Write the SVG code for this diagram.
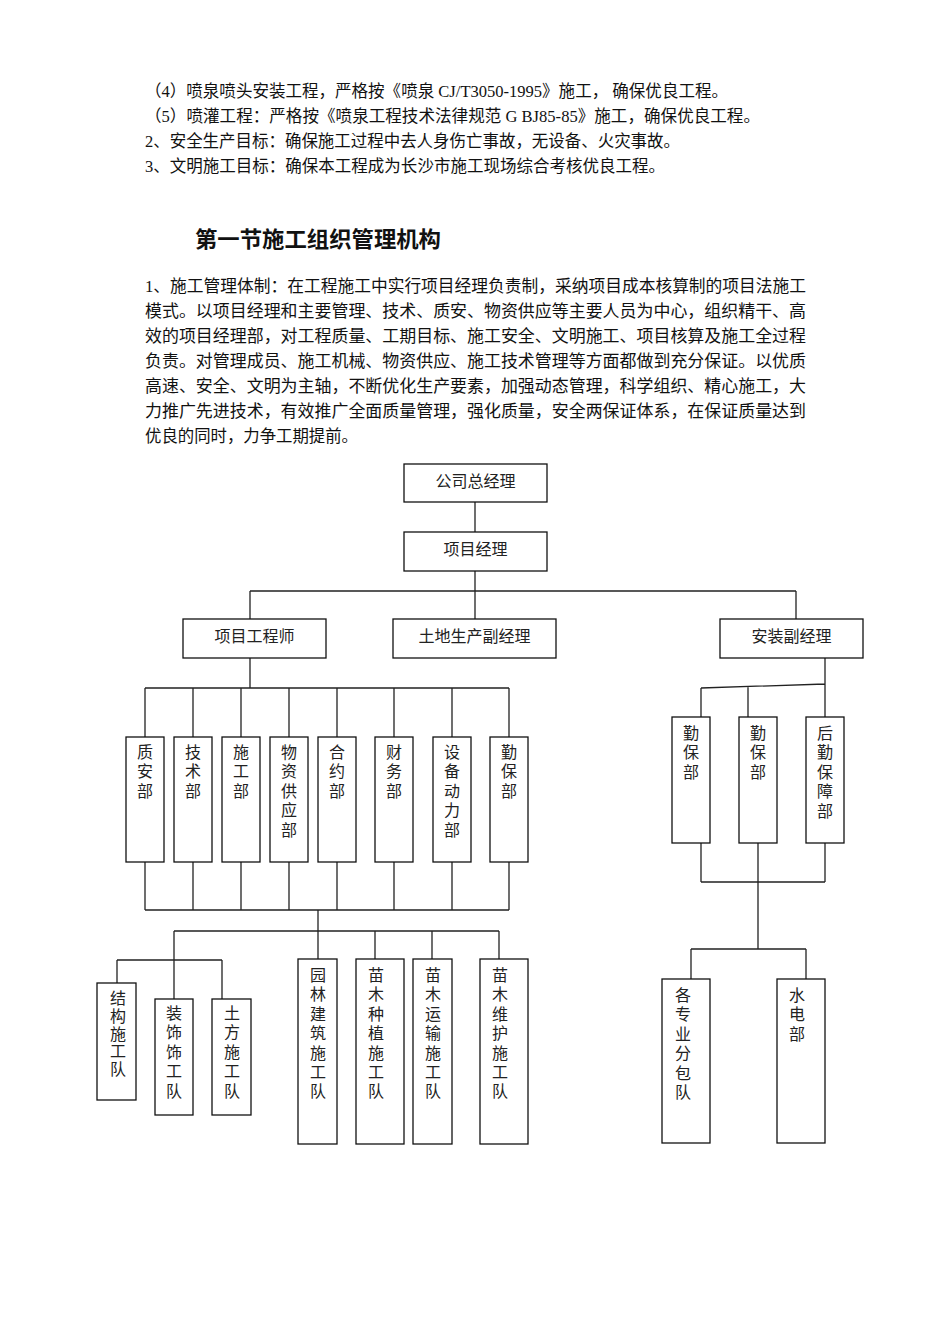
<svg xmlns="http://www.w3.org/2000/svg" width="950" height="1344" viewBox="0 0 950 1344">
<style>
text{font-family:"Liberation Serif","Noto Sans CJK SC",serif;fill:#111}
.b{font-size:16.5px}
.h{font-size:22px;font-weight:bold;font-family:"Noto Sans CJK SC",sans-serif}
.n{font-size:16px;font-family:"Noto Sans CJK SC",sans-serif;fill:#222}
.v{writing-mode:vertical-rl;letter-spacing:3.4px}
.bx{fill:#fff;stroke:#111;stroke-width:1.3}
.ln{fill:none;stroke:#222;stroke-width:1.3}
</style>
<rect width="950" height="1344" fill="#fff"/>
<g id="intro">
<text class="b" x="145" y="97" textLength="583" lengthAdjust="spacingAndGlyphs">（4）喷泉喷头安装工程，严格按《喷泉 CJ/T3050-1995》施工， 确保优良工程。</text>
<text class="b" x="145" y="122" textLength="615" lengthAdjust="spacingAndGlyphs">（5）喷灌工程：严格按《喷泉工程技术法律规范 G BJ85-85》施工，确保优良工程。</text>
<text class="b" x="145" y="147" textLength="535" lengthAdjust="spacingAndGlyphs">2、安全生产目标：确保施工过程中去人身伤亡事故，无设备、火灾事故。</text>
<text class="b" x="145" y="172" textLength="520" lengthAdjust="spacingAndGlyphs">3、文明施工目标：确保本工程成为长沙市施工现场综合考核优良工程。</text>
</g>
<g id="heading"><text class="h" x="195" y="247" textLength="246" lengthAdjust="spacingAndGlyphs">第一节施工组织管理机构</text></g>
<g id="paragraph">
<text class="b" x="145" y="292" textLength="661" lengthAdjust="spacingAndGlyphs">1、施工管理体制：在工程施工中实行项目经理负责制，采纳项目成本核算制的项目法施工</text>
<text class="b" x="145" y="317" textLength="661" lengthAdjust="spacingAndGlyphs">模式。以项目经理和主要管理、技术、质安、物资供应等主要人员为中心，组织精干、高</text>
<text class="b" x="145" y="342" textLength="661" lengthAdjust="spacingAndGlyphs">效的项目经理部，对工程质量、工期目标、施工安全、文明施工、项目核算及施工全过程</text>
<text class="b" x="145" y="367" textLength="661" lengthAdjust="spacingAndGlyphs">负责。对管理成员、施工机械、物资供应、施工技术管理等方面都做到充分保证。以优质</text>
<text class="b" x="145" y="392" textLength="661" lengthAdjust="spacingAndGlyphs">高速、安全、文明为主轴，不断优化生产要素，加强动态管理，科学组织、精心施工，大</text>
<text class="b" x="145" y="417" textLength="661" lengthAdjust="spacingAndGlyphs">力推广先进技术，有效推广全面质量管理，强化质量，安全两保证体系，在保证质量达到</text>
<text class="b" x="145" y="442" textLength="213" lengthAdjust="spacingAndGlyphs">优良的同时，力争工期提前。</text>
</g>
<g id="connectors" class="ln">
<path d="M475 502V532M475 571V591M250 591H796M250 591V619M475 591V619M796 591V619"/>
<path d="M250 658V688M145 688H509M145 688V737M193 688V737M241 688V737M289 688V737M337 688V737M394 688V737M452 688V737M509 688V737"/>
<path d="M145 862V910M193 862V910M241 862V910M289 862V910M337 862V910M394 862V910M452 862V910M509 862V910M145 910H509"/>
<path d="M318 910V959M174 931H499M174 931V999M375 931V959M432 931V959M499 931V959M117 960H222M117 960V987M222 960V999"/>
<path d="M825 658V717M701 688L825 684M701 688V717M748 687V717"/>
<path d="M701 843V882M825 843V882M701 882H825M758 843V949M691 949H806M691 949V979M806 949V979"/>
</g>
<g id="n-gm"><rect class="bx" x="404" y="464" width="143" height="38"/><text class="n" x="475.5" y="487" text-anchor="middle">公司总经理</text></g>
<g id="n-pm"><rect class="bx" x="404" y="532" width="143" height="39"/><text class="n" x="475.5" y="555" text-anchor="middle">项目经理</text></g>
<g id="n-pe"><rect class="bx" x="183" y="619" width="143" height="39"/><text class="n" x="254.5" y="642" text-anchor="middle">项目工程师</text></g>
<g id="n-land"><rect class="bx" x="393" y="619" width="163" height="39"/><text class="n" x="474.5" y="642" text-anchor="middle">土地生产副经理</text></g>
<g id="n-inst"><rect class="bx" x="720" y="619" width="143" height="39"/><text class="n" x="791.5" y="642" text-anchor="middle">安装副经理</text></g>

<g id="n-zhian"><rect class="bx" x="126" y="737" width="38" height="125"/><text class="n v" x="145" y="744">质安部</text></g>
<g id="n-jishu"><rect class="bx" x="174" y="737" width="38" height="125"/><text class="n v" x="193" y="744">技术部</text></g>
<g id="n-shigong"><rect class="bx" x="222" y="737" width="38" height="125"/><text class="n v" x="241" y="744">施工部</text></g>
<g id="n-wuzi"><rect class="bx" x="270" y="737" width="38" height="125"/><text class="n v" x="289" y="744">物资供应部</text></g>
<g id="n-heyue"><rect class="bx" x="318" y="737" width="38" height="125"/><text class="n v" x="337" y="744">合约部</text></g>
<g id="n-caiwu"><rect class="bx" x="375" y="737" width="38" height="125"/><text class="n v" x="394" y="744">财务部</text></g>
<g id="n-shebei"><rect class="bx" x="433" y="737" width="38" height="125"/><text class="n v" x="452" y="744">设备动力部</text></g>
<g id="n-qinbao1"><rect class="bx" x="490" y="737" width="38" height="125"/><text class="n v" x="509" y="744">勤保部</text></g>

<g id="n-qinbao2"><rect class="bx" x="672" y="717" width="38" height="126"/><text class="n v" x="691" y="725">勤保部</text></g>
<g id="n-qinbao3"><rect class="bx" x="739" y="717" width="38" height="126"/><text class="n v" x="758" y="725">勤保部</text></g>
<g id="n-houqin"><rect class="bx" x="806" y="717" width="38" height="126"/><text class="n v" x="825" y="725">后勤保障部</text></g>

<g id="n-jiegou"><rect class="bx" x="97" y="983" width="39" height="117"/><text class="n v" x="118" y="990" style="letter-spacing:1.8px">结构施工队</text></g>
<g id="n-zhuangshi"><rect class="bx" x="155" y="999" width="38" height="116"/><text class="n v" x="174" y="1005">装饰饰工队</text></g>
<g id="n-tufang"><rect class="bx" x="212" y="999" width="39" height="116"/><text class="n v" x="232" y="1005">土方施工队</text></g>
<g id="n-yuanlin"><rect class="bx" x="298" y="959" width="39" height="185"/><text class="n v" x="318" y="967">园林建筑施工队</text></g>
<g id="n-zhongzhi"><rect class="bx" x="356" y="959" width="48" height="185"/><text class="n v" x="376" y="967">苗木种植施工队</text></g>
<g id="n-yunshu"><rect class="bx" x="413" y="959" width="39" height="185"/><text class="n v" x="433" y="967">苗木运输施工队</text></g>
<g id="n-weihu"><rect class="bx" x="480" y="959" width="48" height="185"/><text class="n v" x="500" y="967">苗木维护施工队</text></g>

<g id="n-fenbao"><rect class="bx" x="662" y="979" width="48" height="164"/><text class="n v" x="683" y="987">各专业分包队</text></g>
<g id="n-shuidian"><rect class="bx" x="777" y="979" width="48" height="164"/><text class="n v" x="797" y="987">水电部</text></g>
</svg>
